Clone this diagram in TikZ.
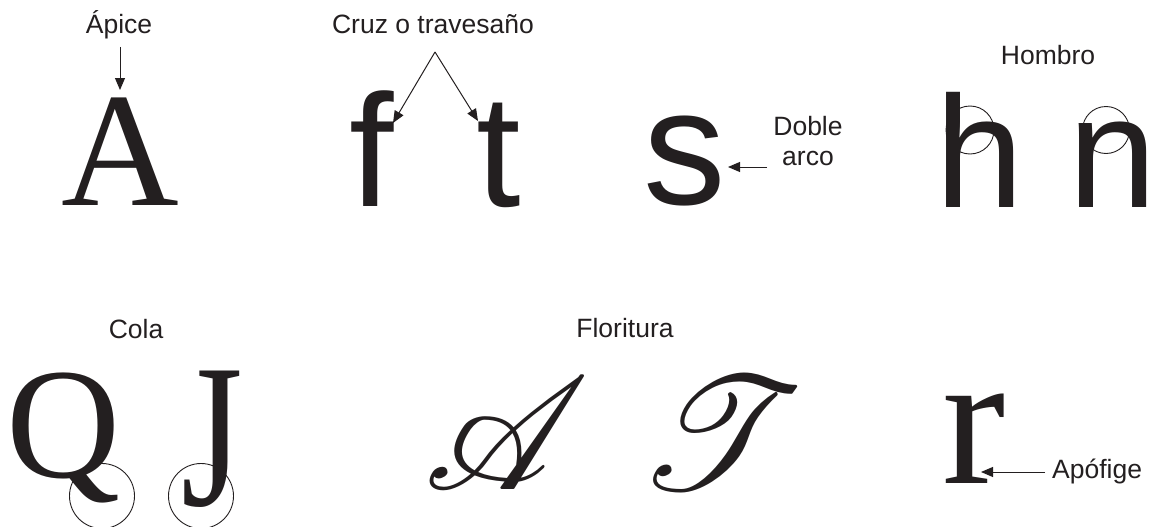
\documentclass[tikz,border=0pt]{standalone}
\usepackage{fontspec}
\setmainfont{Liberation Sans}
\newfontfamily\serifL{Liberation Serif}
\usetikzlibrary{arrows.meta}
\font\scrfont=rsfs10 at 160pt
\definecolor{ink}{HTML}{231F20}
\begin{document}
\begin{tikzpicture}[x=1pt,y=-1pt,
  lbl/.style={font=\fontsize{26.5}{31}\selectfont, text=ink, inner sep=0pt, anchor=base},
  glyph/.style={inner sep=0pt, anchor=base, text=ink},
  serifglyph/.style={glyph, font=\serifL\fontsize{#1}{#1}\selectfont},
  sansglyph/.style={glyph, font=\fontsize{#1}{#1}\selectfont},
  scriptglyph/.style={glyph, font=\scrfont},
  ring/.style={draw=ink, line width=0.9pt},
  arr/.style={draw=ink, line width=1pt, -{Triangle[length=12pt,width=10pt]}}]
\useasboundingbox (0,0) rectangle (1153,527);
% top row
\node[lbl] (apice) at (119,34) {Ápice};
\node[serifglyph=163] (A) at (120,205) {A};
\coordinate (apiceFrom) at (120,47);
\coordinate (apiceTo) at (120,90);
\draw[arr] (apiceFrom) -- (apiceTo);

\node[lbl] (cruz) at (433,34) {Cruz o travesaño};
\node[sansglyph=160] (f) at (372,206) {f};
\node[sansglyph=160] (t) at (499,206) {t};
\coordinate (cruzFrom) at (435,52);
\coordinate (fTo) at (393,123);
\coordinate (tTo) at (478,121);
\draw[arr] (cruzFrom) -- (fTo);
\draw[arr] (cruzFrom) -- (tTo);

\node[sansglyph=165] (s) at (685,204) {s};
\node[lbl, align=center, anchor=base] (doble) at (808,165) {Doble\\[-1pt]arco};
\coordinate (dobleFrom) at (767,167);
\coordinate (dobleTo) at (728,167);
\draw[arr] (dobleFrom) -- (dobleTo);

\node[lbl] (hombro) at (1048,65) {Hombro};
\draw[ring] (970,130) circle[radius=24];
\draw[ring] (1106,130) circle[radius=23.5];
\node[sansglyph=159] (h) at (980,207) {h};
\node[sansglyph=159] (n) at (1113,207) {n};

% bottom row
\node[lbl] (cola) at (136,338) {Cola};
\draw[ring] (102,496) circle[radius=32.5];
\draw[ring] (201,496) circle[radius=32.5];
\node[serifglyph=158] (Q) at (64,477) {Q};
\node[serifglyph=158] (J) at (212,505) {\scalebox{1}[1.3]{J}};

\node[lbl] (flor) at (625,337) {Floritura};
\node[scriptglyph] (scA) at (489,489) {A};
\node[scriptglyph] (scT) at (698,489) {T};

\node[serifglyph=190] (r) at (974,483) {r};
\node[lbl, anchor=base west] (apofige) at (1052,478) {Apófige};
\coordinate (apoFrom) at (1045,472);
\coordinate (apoTo) at (981,472);
\draw[arr] (apoFrom) -- (apoTo);
\end{tikzpicture}
\end{document}
